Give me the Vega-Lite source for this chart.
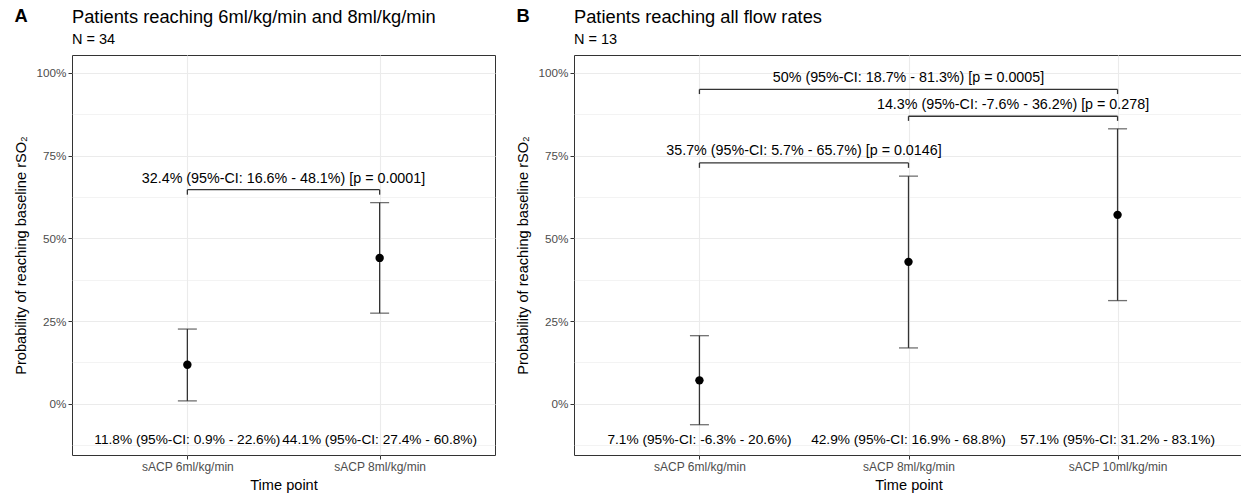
{
  "$schema": "https://vega.github.io/schema/vega-lite/v6.json",
  "padding": {"left": 12, "top": 6, "right": 0, "bottom": 0},
  "background": "white",
  "config": {
    "font": "Liberation Sans",
    "view": {"stroke": "#333333", "strokeWidth": 1},
    "title": {"color": "black"},
    "axisX": {"grid": true, "gridColor": "#EBEBEB", "gridWidth": 1.1, "domain": false, "tickColor": "#333333", "tickSize": 4, "labelColor": "#4D4D4D", "labelFontSize": 12, "labelPadding": 2, "titleFontSize": 14.6, "titleFontWeight": "normal", "titleColor": "black", "titlePadding": 5},
    "axisY": {"grid": true, "gridColor": "#EBEBEB", "domain": false, "tickColor": "#333333", "tickSize": 4, "labelColor": "#4D4D4D", "labelFontSize": 11.7, "labelPadding": 2, "titleFontSize": 14.6, "titleFontWeight": "normal", "titleColor": "black", "titlePadding": 8}
  },
  "datasets": {
    "a_points": [
      {"pos": 1, "group": "sACP 6ml/kg/min", "est": 11.8, "lo": 0.9, "hi": 22.6, "label": "11.8% (95%-CI: 0.9% - 22.6%)"},
      {"pos": 2, "group": "sACP 8ml/kg/min", "est": 44.1, "lo": 27.4, "hi": 60.8, "label": "44.1% (95%-CI: 27.4% - 60.8%)"}
    ],
    "a_brackets": [
      {"x1": 1, "x2": 2, "xmid": 1.5, "ybr": 64.7, "ytk": 63.2, "label": "32.4% (95%-CI: 16.6% - 48.1%) [p = 0.0001]"}
    ],
    "b_points": [
      {"pos": 1, "group": "sACP 6ml/kg/min", "est": 7.1, "lo": -6.3, "hi": 20.6, "label": "7.1% (95%-CI: -6.3% - 20.6%)"},
      {"pos": 2, "group": "sACP 8ml/kg/min", "est": 42.9, "lo": 16.9, "hi": 68.8, "label": "42.9% (95%-CI: 16.9% - 68.8%)"},
      {"pos": 3, "group": "sACP 10ml/kg/min", "est": 57.1, "lo": 31.2, "hi": 83.1, "label": "57.1% (95%-CI: 31.2% - 83.1%)"}
    ],
    "b_brackets": [
      {"x1": 1, "x2": 2, "xmid": 1.5, "ybr": 72.8, "ytk": 71.3, "label": "35.7% (95%-CI: 5.7% - 65.7%) [p = 0.0146]"},
      {"x1": 2, "x2": 3, "xmid": 2.5, "ybr": 86.9, "ytk": 85.5, "label": "14.3% (95%-CI: -7.6% - 36.2%) [p = 0.278]"},
      {"x1": 1, "x2": 3, "xmid": 2, "ybr": 95.0, "ytk": 93.6, "label": "50% (95%-CI: 18.7% - 81.3%) [p = 0.0005]"}
    ]
  },
  "spacing": 18,
  "hconcat": [
    {
      "title": {"text": "A", "orient": "left", "anchor": "end", "angle": 0, "align": "left", "baseline": "top", "frame": "bounds", "offset": -15, "fontSize": 18.3, "fontWeight": "bold"},
      "hconcat": [
        {
          "width": 423,
          "height": 400,
          "title": {"text": "Patients reaching 6ml/kg/min and 8ml/kg/min", "subtitle": "N = 34", "anchor": "start", "frame": "group", "fontSize": 18.3, "fontWeight": "normal", "subtitleFontSize": 14.5, "subtitleColor": "black", "offset": 8, "subtitlePadding": 5},
          "layer": [
            {
              "data": {"name": "a_points"},
              "mark": {"type": "rule", "color": "#333333", "strokeWidth": 1.3},
              "encoding": {
                "x": {"field": "pos", "type": "quantitative", "title": "Time point", "scale": {"domain": [0.4, 2.6], "nice": false, "zero": false},
                  "axis": {"values": [1, 2], "labelExpr": "['', 'sACP 6ml/kg/min', 'sACP 8ml/kg/min', 'sACP 10ml/kg/min'][datum.value]"}},
                "y": {"field": "lo", "type": "quantitative", "title": "Probability of reaching baseline rSO₂", "scale": {"domain": [-15.45, 105.4], "nice": false, "zero": false},
                  "axis": {"values": [-12.5, 0, 12.5, 25, 37.5, 50, 62.5, 75, 87.5, 100], "labelExpr": "datum.value % 25 === 0 ? datum.value + '%' : ''", "tickOpacity": {"condition": {"test": "datum.value % 25 !== 0", "value": 0}, "value": 1}, "gridWidth": {"condition": {"test": "datum.value % 25 !== 0", "value": 0.6}, "value": 1.1}}},
                "y2": {"field": "hi"}
              }
            },
            {
              "data": {"name": "a_points"},
              "mark": {"type": "tick", "orient": "horizontal", "color": "#333333", "size": 19, "thickness": 1.3},
              "encoding": {"x": {"field": "pos", "type": "quantitative", "title": "Time point"}, "y": {"field": "lo", "type": "quantitative", "title": "Probability of reaching baseline rSO₂"}}
            },
            {
              "data": {"name": "a_points"},
              "mark": {"type": "tick", "orient": "horizontal", "color": "#333333", "size": 19, "thickness": 1.3},
              "encoding": {"x": {"field": "pos", "type": "quantitative", "title": "Time point"}, "y": {"field": "hi", "type": "quantitative", "title": "Probability of reaching baseline rSO₂"}}
            },
            {
              "data": {"name": "a_points"},
              "mark": {"type": "point", "filled": true, "color": "black", "opacity": 1, "size": 71},
              "encoding": {"x": {"field": "pos", "type": "quantitative", "title": "Time point"}, "y": {"field": "est", "type": "quantitative", "title": "Probability of reaching baseline rSO₂"}}
            },
            {
              "data": {"name": "a_points"},
              "mark": {"type": "text", "fontSize": 13.7, "color": "black", "baseline": "alphabetic", "align": "center"},
              "encoding": {"x": {"field": "pos", "type": "quantitative", "title": "Time point"}, "y": {"datum": -12.2, "type": "quantitative", "title": "Probability of reaching baseline rSO₂"}, "text": {"field": "label"}}
            },
            {
              "data": {"name": "a_brackets"},
              "mark": {"type": "rule", "color": "#333333", "strokeWidth": 1.3},
              "encoding": {"x": {"field": "x1", "type": "quantitative", "title": "Time point"}, "x2": {"field": "x2"}, "y": {"field": "ybr", "type": "quantitative", "title": "Probability of reaching baseline rSO₂"}}
            },
            {
              "data": {"name": "a_brackets"},
              "mark": {"type": "rule", "color": "#333333", "strokeWidth": 1.3},
              "encoding": {"x": {"field": "x1", "type": "quantitative", "title": "Time point"}, "y": {"field": "ybr", "type": "quantitative", "title": "Probability of reaching baseline rSO₂"}, "y2": {"field": "ytk"}}
            },
            {
              "data": {"name": "a_brackets"},
              "mark": {"type": "rule", "color": "#333333", "strokeWidth": 1.3},
              "encoding": {"x": {"field": "x2", "type": "quantitative", "title": "Time point"}, "y": {"field": "ybr", "type": "quantitative", "title": "Probability of reaching baseline rSO₂"}, "y2": {"field": "ytk"}}
            },
            {
              "data": {"name": "a_brackets"},
              "mark": {"type": "text", "fontSize": 14.3, "color": "black", "baseline": "alphabetic", "align": "center", "dy": -7},
              "encoding": {"x": {"field": "xmid", "type": "quantitative", "title": "Time point"}, "y": {"field": "ybr", "type": "quantitative", "title": "Probability of reaching baseline rSO₂"}, "text": {"field": "label"}}
            }
          ]
        }
      ]
    },
    {
      "title": {"text": "B", "orient": "left", "anchor": "end", "angle": 0, "align": "left", "baseline": "top", "frame": "bounds", "offset": -15, "fontSize": 18.3, "fontWeight": "bold"},
      "hconcat": [
        {
          "width": 669,
          "height": 400,
          "title": {"text": "Patients reaching all flow rates", "subtitle": "N = 13", "anchor": "start", "frame": "group", "fontSize": 18.3, "fontWeight": "normal", "subtitleFontSize": 14.5, "subtitleColor": "black", "offset": 8, "subtitlePadding": 5},
          "layer": [
            {
              "data": {"name": "b_points"},
              "mark": {"type": "rule", "color": "#333333", "strokeWidth": 1.3},
              "encoding": {
                "x": {"field": "pos", "type": "quantitative", "title": "Time point", "scale": {"domain": [0.4, 3.6], "nice": false, "zero": false},
                  "axis": {"values": [1, 2, 3], "labelExpr": "['', 'sACP 6ml/kg/min', 'sACP 8ml/kg/min', 'sACP 10ml/kg/min'][datum.value]"}},
                "y": {"field": "lo", "type": "quantitative", "title": "Probability of reaching baseline rSO₂", "scale": {"domain": [-15.45, 105.4], "nice": false, "zero": false},
                  "axis": {"values": [-12.5, 0, 12.5, 25, 37.5, 50, 62.5, 75, 87.5, 100], "labelExpr": "datum.value % 25 === 0 ? datum.value + '%' : ''", "tickOpacity": {"condition": {"test": "datum.value % 25 !== 0", "value": 0}, "value": 1}, "gridWidth": {"condition": {"test": "datum.value % 25 !== 0", "value": 0.6}, "value": 1.1}}},
                "y2": {"field": "hi"}
              }
            },
            {
              "data": {"name": "b_points"},
              "mark": {"type": "tick", "orient": "horizontal", "color": "#333333", "size": 19, "thickness": 1.3},
              "encoding": {"x": {"field": "pos", "type": "quantitative", "title": "Time point"}, "y": {"field": "lo", "type": "quantitative", "title": "Probability of reaching baseline rSO₂"}}
            },
            {
              "data": {"name": "b_points"},
              "mark": {"type": "tick", "orient": "horizontal", "color": "#333333", "size": 19, "thickness": 1.3},
              "encoding": {"x": {"field": "pos", "type": "quantitative", "title": "Time point"}, "y": {"field": "hi", "type": "quantitative", "title": "Probability of reaching baseline rSO₂"}}
            },
            {
              "data": {"name": "b_points"},
              "mark": {"type": "point", "filled": true, "color": "black", "opacity": 1, "size": 71},
              "encoding": {"x": {"field": "pos", "type": "quantitative", "title": "Time point"}, "y": {"field": "est", "type": "quantitative", "title": "Probability of reaching baseline rSO₂"}}
            },
            {
              "data": {"name": "b_points"},
              "mark": {"type": "text", "fontSize": 13.7, "color": "black", "baseline": "alphabetic", "align": "center"},
              "encoding": {"x": {"field": "pos", "type": "quantitative", "title": "Time point"}, "y": {"datum": -12.2, "type": "quantitative", "title": "Probability of reaching baseline rSO₂"}, "text": {"field": "label"}}
            },
            {
              "data": {"name": "b_brackets"},
              "mark": {"type": "rule", "color": "#333333", "strokeWidth": 1.3},
              "encoding": {"x": {"field": "x1", "type": "quantitative", "title": "Time point"}, "x2": {"field": "x2"}, "y": {"field": "ybr", "type": "quantitative", "title": "Probability of reaching baseline rSO₂"}}
            },
            {
              "data": {"name": "b_brackets"},
              "mark": {"type": "rule", "color": "#333333", "strokeWidth": 1.3},
              "encoding": {"x": {"field": "x1", "type": "quantitative", "title": "Time point"}, "y": {"field": "ybr", "type": "quantitative", "title": "Probability of reaching baseline rSO₂"}, "y2": {"field": "ytk"}}
            },
            {
              "data": {"name": "b_brackets"},
              "mark": {"type": "rule", "color": "#333333", "strokeWidth": 1.3},
              "encoding": {"x": {"field": "x2", "type": "quantitative", "title": "Time point"}, "y": {"field": "ybr", "type": "quantitative", "title": "Probability of reaching baseline rSO₂"}, "y2": {"field": "ytk"}}
            },
            {
              "data": {"name": "b_brackets"},
              "mark": {"type": "text", "fontSize": 14.3, "color": "black", "baseline": "alphabetic", "align": "center", "dy": -7.5},
              "encoding": {"x": {"field": "xmid", "type": "quantitative", "title": "Time point"}, "y": {"field": "ybr", "type": "quantitative", "title": "Probability of reaching baseline rSO₂"}, "text": {"field": "label"}}
            }
          ]
        }
      ]
    }
  ]
}
